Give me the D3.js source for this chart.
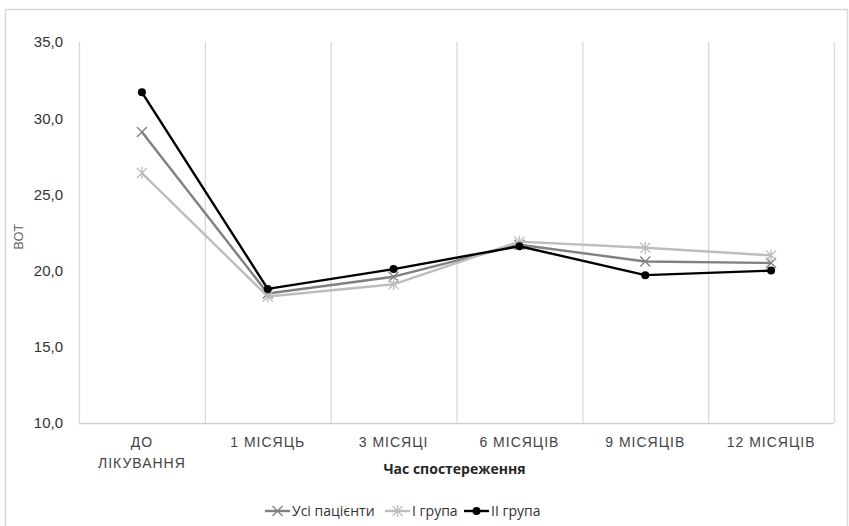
<!DOCTYPE html>
<html><head><meta charset="utf-8">
<script src="https://cdn.jsdelivr.net/npm/d3@7"></script>
<style>body{margin:0;background:#fff;}svg{display:block;font-family:"Open Sans","Noto Sans",sans-serif;}</style>
</head><body><svg id="c" width="849" height="526"></svg>
<script>
const categories = ["ДО|ЛІКУВАННЯ", "1 МІСЯЦЬ", "3 МІСЯЦІ", "6 МІСЯЦІВ", "9 МІСЯЦІВ", "12 МІСЯЦІВ"];
const seriesNames = ["Усі пацієнти", "I група", "II група"];
const allPatients = [29.1, 18.5, 19.6, 21.7, 20.6, 20.5];
const group1 = [26.4, 18.3, 19.1, 21.9, 21.5, 21.0];
const group2 = [31.7, 18.8, 20.1, 21.6, 19.7, 20.0];
const yTicks = [10, 15, 20, 25, 30, 35];
const xTitle = "Час спостереження";
const yTitle = "ВОТ";

const series = [
  {name: seriesNames[0], values: allPatients, color: "#808080", marker: "x"},
  {name: seriesNames[1], values: group1, color: "#bdbdbd", marker: "star"},
  {name: seriesNames[2], values: group2, color: "#000000", marker: "circle"}
];

const svg = d3.select("#c");
svg.append("rect").attr("x", 5.5).attr("y", 9.5).attr("width", 842).attr("height", 520)
  .attr("fill", "#fff").attr("stroke", "#d9d9d9").attr("stroke-width", 1.5);

const m = {l: 79, r: 834, t: 42, b: 423};
const x = d3.scaleBand().domain(categories).range([m.l, m.r]);
const y = d3.scaleLinear().domain([10, 35]).range([m.b, m.t]);

// vertical gridlines at band boundaries
const bounds = categories.map(c => x(c)).concat([m.r]);
svg.append("g").selectAll("line").data(bounds).join("line")
  .attr("x1", d => d + 0.5).attr("x2", d => d + 0.5).attr("y1", m.t).attr("y2", m.b)
  .attr("stroke", "#d9d9d9").attr("stroke-width", 1.3);
svg.append("line").attr("x1", m.l).attr("x2", m.r).attr("y1", m.b + 0.5).attr("y2", m.b + 0.5)
  .attr("stroke", "#d0d0d0").attr("stroke-width", 1.3);

// y axis
const yAxis = d3.axisLeft(y).tickValues(yTicks).tickSize(0).tickPadding(16)
  .tickFormat(d => d3.format(".1f")(d).replace(".", ","));
const gy = svg.append("g").attr("transform", `translate(${m.l},0)`).call(yAxis);
gy.select(".domain").remove();
gy.selectAll("text").attr("font-size", 15).attr("fill", "#333");

// x axis
const xAxis = d3.axisBottom(x).tickSize(0).tickPadding(14).tickFormat(d => "");
const gx = svg.append("g").attr("transform", `translate(0,${m.b})`).call(xAxis);
gx.select(".domain").remove();
gx.selectAll(".tick").each(function(d) {
  const lines = d.split("|");
  const t = d3.select(this).select("text").attr("font-size", 14).attr("fill", "#444")
    .attr("letter-spacing", "1px").attr("dy", null);
  lines.forEach((ln, i) => t.append("tspan").attr("x", 0).attr("dy", i === 0 ? "0.71em" : "1.5em").text(ln));
});

svg.append("text").attr("x", (m.l + m.r) / 2 - 2).attr("y", 474).attr("text-anchor", "middle")
  .attr("font-size", 14).attr("font-weight", "bold").attr("fill", "#262626").text(xTitle);
svg.append("text").attr("transform", "translate(23,237) rotate(-90)").attr("text-anchor", "middle")
  .attr("font-size", 13).attr("fill", "#595959").text(yTitle);

function drawMarker(g, type, cx, cy, color) {
  if (type === "circle") {
    g.append("circle").attr("cx", cx).attr("cy", cy).attr("r", 4).attr("fill", color);
  } else if (type === "x") {
    const s = 5;
    g.append("path").attr("d", `M${cx-s},${cy-s}L${cx+s},${cy+s}M${cx-s},${cy+s}L${cx+s},${cy-s}`)
      .attr("stroke", color).attr("stroke-width", 1.3).attr("fill", "none");
  } else {
    const s = 5;
    g.append("path").attr("d", `M${cx-s},${cy-s}L${cx+s},${cy+s}M${cx-s},${cy+s}L${cx+s},${cy-s}M${cx},${cy-s-1}L${cx},${cy+s+1}`)
      .attr("stroke", color).attr("stroke-width", 1.3).attr("fill", "none");
  }
}

const line = d3.line().x((d, i) => x(categories[i]) + x.bandwidth() / 2).y(d => y(d));
series.forEach(s => {
  const g = svg.append("g");
  g.append("path").datum(s.values).attr("d", line).attr("fill", "none")
    .attr("stroke", s.color).attr("stroke-width", 2.4).attr("stroke-linejoin", "round");
  s.values.forEach((v, i) => drawMarker(g, s.marker, x(categories[i]) + x.bandwidth() / 2, y(v), s.color));
});

// legend
const legendItems = [{x: 265}, {x: 385}, {x: 464}];
const ly = 511;
series.forEach((s, i) => {
  const lx = legendItems[i].x;
  const g = svg.append("g");
  g.append("line").attr("x1", lx).attr("x2", lx + 25).attr("y1", ly).attr("y2", ly)
    .attr("stroke", s.color).attr("stroke-width", 2.4);
  drawMarker(g, s.marker, lx + 12.5, ly, s.color);
  g.append("text").attr("x", lx + 27).attr("y", ly).attr("dy", "0.35em")
    .attr("font-size", 14).attr("fill", "#333").text(s.name);
});
</script></body></html>
